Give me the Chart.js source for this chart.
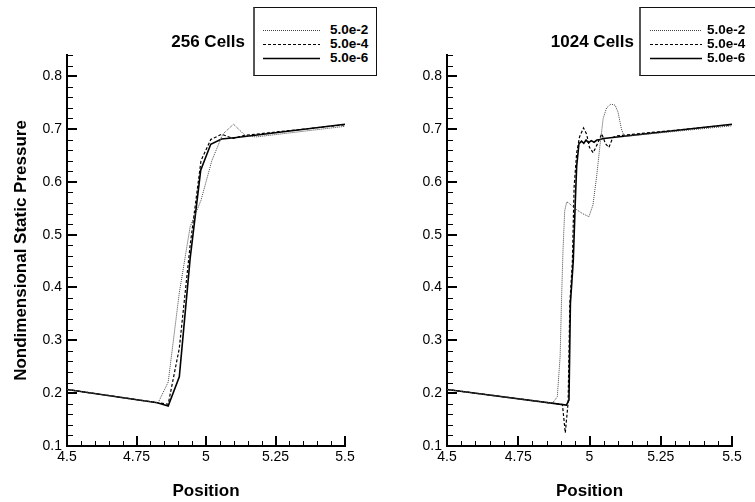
<!DOCTYPE html>
<html>
<head>
<meta charset="utf-8">
<title>Nondimensional Static Pressure</title>
<script src="https://cdn.jsdelivr.net/npm/chart.js@4.4.0/dist/chart.umd.min.js"></script>
<style>
  body { margin: 0; background: #fff; font-family: "Liberation Sans", Arial, sans-serif; }
  #wrap { position: relative; width: 755px; height: 502px; overflow: hidden; }
  canvas { position: absolute; top: 0; }
  .ticks { position: absolute; top: 0; z-index: 1; pointer-events: none; }
  .title { position: absolute; top: 32px; line-height: 20px; font-size: 17px; font-weight: bold; color: #000; white-space: nowrap; }
  .legend { position: absolute; top: 7px; height: 69px; box-sizing: border-box; border: 1px solid #111; border-left: 2px solid #555; background: #fff; z-index: 2; }
  .legend .row { position: absolute; left: 0; height: 14px; width: 100%; }
  .legend svg { position: absolute; top: 0; }
  .legend span { position: absolute; top: 0; line-height: 14px; font-size: 13.5px; font-weight: bold; color: #000; }
</style>
</head>
<body>
<div id="wrap">
  <canvas id="chart256" width="378" height="502" style="left:0"></canvas>
  <canvas id="chart1024" width="377" height="502" style="left:378px"></canvas>
  <div class="title" style="right:510px">256 Cells</div>
  <div class="title" style="right:121px">1024 Cells</div>
  <div class="legend" id="legend256" style="left:253px; width:124px"></div>
  <div class="legend" id="legend1024" style="left:639px; width:130px"></div>
</div>
<script>
// 軸の目盛り
const xTicks = [4.5, 4.75, 5, 5.25, 5.5];
const xTickLabels = ['4.5', '4.75', '5', '5.25', '5.5'];
const yTicks = [0.1, 0.2, 0.3, 0.4, 0.5, 0.6, 0.7, 0.8];
const yTickLabels = ['0.1', '0.2', '0.3', '0.4', '0.5', '0.6', '0.7', '0.8'];
const seriesLabels = ['5.0e-2', '5.0e-4', '5.0e-6'];

// 256 Cells
const x256_e2 = [4.5, 4.828, 4.864, 4.904, 4.943, 4.982, 5.021, 5.06, 5.099, 5.142, 5.18, 5.5];
const y256_e2 = [0.207, 0.182, 0.221, 0.39, 0.515, 0.565, 0.64, 0.69, 0.709, 0.687, 0.685, 0.705];
const x256_e4 = [4.5, 4.825, 4.864, 4.904, 4.943, 4.982, 5.017, 5.056, 5.098, 5.14, 5.5];
const y256_e4 = [0.207, 0.182, 0.179, 0.285, 0.48, 0.64, 0.68, 0.69, 0.682, 0.688, 0.708];
const x256_e6 = [4.5, 4.825, 4.864, 4.904, 4.943, 4.981, 5.017, 5.056, 5.11, 5.5];
const y256_e6 = [0.207, 0.182, 0.1755, 0.231, 0.455, 0.622, 0.671, 0.681, 0.684, 0.709];

// 1024 Cells
const x1024_e2 = [4.5, 4.87, 4.887, 4.897, 4.902, 4.907, 4.913, 4.92, 4.927, 4.95, 4.975, 4.998, 5.012, 5.025, 5.037, 5.048, 5.06, 5.075, 5.09, 5.1, 5.112, 5.122, 5.5];
const y1024_e2 = [0.207, 0.181, 0.193, 0.27, 0.38, 0.47, 0.545, 0.562, 0.56, 0.549, 0.54, 0.534, 0.556, 0.61, 0.67, 0.72, 0.74, 0.747, 0.745, 0.732, 0.70, 0.686, 0.706];
const x1024_e4 = [4.5, 4.905, 4.915, 4.925, 4.931, 4.94, 4.946, 4.955, 4.965, 4.979, 4.99, 5.0, 5.013, 5.028, 5.043, 5.056, 5.068, 5.082, 5.095, 5.5];
const y1024_e4 = [0.207, 0.1785, 0.125, 0.182, 0.37, 0.45, 0.59, 0.655, 0.685, 0.702, 0.69, 0.665, 0.655, 0.672, 0.691, 0.672, 0.665, 0.684, 0.687, 0.708];
const x1024_e6 = [4.5, 4.919, 4.928, 4.933, 4.943, 4.95, 4.955, 4.963, 4.972, 4.98, 4.988, 4.997, 5.006, 5.016, 5.026, 5.036, 5.05, 5.5];
const y1024_e6 = [0.207, 0.1775, 0.187, 0.37, 0.45, 0.56, 0.63, 0.672, 0.677, 0.673, 0.679, 0.674, 0.678, 0.675, 0.679, 0.68, 0.682, 0.709];

// 線のスタイル（点線・破線・実線）
const lineStyles = [
    { color: '#444', width: 1, dash: [1, 1] },
    { color: '#000', width: 1.2, dash: [3, 2] },
    { color: '#000', width: 1.6, dash: [] }
];

const fontFamily = '"Liberation Sans", Arial, sans-serif';

// 内向きの目盛り線の位置（スケールから計算）
function tickSegments(chart) {
    const area = chart.chartArea;
    const sx = chart.scales.x;
    const sy = chart.scales.y;
    const segs = [];
    for (let k = 0; k <= 20; k++) {
        const v = 4.5 + k * 0.05;
        let px = sx.getPixelForValue(v);
        if (!isFinite(px)) px = area.left + (v - 4.5) * area.width;
        const major = k % 5 === 0;
        const xx = major ? Math.round(px) : Math.round(px) + 0.5;
        segs.push({ x1: xx, y1: area.bottom, x2: xx, y2: area.bottom - (major ? 10 : 5), w: major ? 2 : 1 });
    }
    for (let k = 0; k <= 37; k++) {
        const v = 0.1 + k * 0.02;
        let py = sy.getPixelForValue(v);
        if (!isFinite(py)) py = area.bottom - (v - 0.1) / 0.74 * area.height;
        const major = k % 5 === 0;
        const yy = major ? Math.round(py) : Math.round(py) + 0.5;
        segs.push({ x1: area.left, y1: yy, x2: area.left + (major ? 10 : 6), y2: yy, w: major ? 2 : 1 });
    }
    return segs;
}

// 目盛り線をSVGで重ねる
function addTickOverlay(chart, left) {
    const lines = tickSegments(chart).map(s =>
        '<line x1="' + s.x1 + '" y1="' + s.y1 + '" x2="' + s.x2 + '" y2="' + s.y2 +
        '" stroke="#000" stroke-width="' + s.w + '"/>').join('');
    document.getElementById('wrap').insertAdjacentHTML('beforeend',
        '<svg class="ticks" width="' + chart.width + '" height="' + chart.height +
        '" style="left:' + left + 'px">' + lines + '</svg>');
}

function makeChart(id, xsList, ysList, yWidth, padRight, showYTitle) {
    const ctx = document.getElementById(id).getContext('2d');
    return new Chart(ctx, {
        type: 'line',
        data: {
            datasets: xsList.map((xs, i) => ({
                label: seriesLabels[i],
                data: xs.map((x, j) => ({ x: x, y: ysList[i][j] })),
                borderColor: lineStyles[i].color,
                borderWidth: lineStyles[i].width,
                borderDash: lineStyles[i].dash,
                pointRadius: 0,
                tension: 0,
                fill: false
            }))
        },
        options: {
            responsive: false,
            animation: false,
            layout: { padding: { top: 55, right: padRight, bottom: 0, left: 0 } },
            plugins: {
                legend: { display: false },
                tooltip: { enabled: false }
            },
            scales: {
                x: {
                    type: 'linear',
                    min: 4.5,
                    max: 5.5,
                    afterBuildTicks: s => { s.ticks = xTicks.map(v => ({ value: v })); },
                    afterFit: s => { s.height = 56; },
                    ticks: {
                        callback: (v, i) => xTickLabels[i],
                        color: '#000',
                        font: { family: fontFamily, size: 14 },
                        padding: 3,
                        maxRotation: 0,
                        autoSkip: false
                    },
                    grid: { drawOnChartArea: false, drawTicks: false },
                    border: { display: true, color: '#000', width: 2 },
                    title: {
                        display: true,
                        text: 'Position',
                        color: '#000',
                        font: { family: fontFamily, size: 17, weight: 'bold' },
                        padding: { top: 0, bottom: 0 }
                    }
                },
                y: {
                    type: 'linear',
                    min: 0.1,
                    max: 0.84,
                    afterBuildTicks: s => { s.ticks = yTicks.map(v => ({ value: v })); },
                    afterFit: s => { s.width = yWidth; },
                    ticks: {
                        callback: (v, i) => yTickLabels[i],
                        color: '#000',
                        font: { family: fontFamily, size: 14 },
                        padding: 5,
                        autoSkip: false
                    },
                    grid: { drawOnChartArea: false, drawTicks: false },
                    border: { display: true, color: '#000', width: 2 },
                    title: {
                        display: showYTitle,
                        text: 'Nondimensional Static Pressure',
                        color: '#000',
                        font: { family: fontFamily, size: 17, weight: 'bold' },
                        padding: { top: 11, bottom: 0 }
                    }
                }
            }
        }
    });
}

// 凡例（枠付き）
function buildLegend(id, sampleLeft, sampleWidth, textLeft) {
    const box = document.getElementById(id);
    seriesLabels.forEach((label, i) => {
        const row = document.createElement('div');
        row.className = 'row';
        row.style.top = (15 + i * 14) + 'px';
        const st = lineStyles[i];
        row.innerHTML =
            '<svg width="' + sampleWidth + '" height="14" style="left:' + sampleLeft + 'px">' +
            '<line x1="0" y1="7.5" x2="' + sampleWidth + '" y2="7.5" stroke="' + st.color +
            '" stroke-width="' + st.width + '" stroke-dasharray="' + (st.dash.length ? st.dash.join(',') : 'none') + '"/></svg>' +
            '<span style="left:' + textLeft + 'px">' + label + '</span>';
        box.appendChild(row);
    });
}

const chart256 = makeChart('chart256', [x256_e2, x256_e4, x256_e6], [y256_e2, y256_e4, y256_e6], 67, 33, true);
const chart1024 = makeChart('chart1024', [x1024_e2, x1024_e4, x1024_e6], [y1024_e2, y1024_e4, y1024_e6], 69, 23, false);
addTickOverlay(chart256, 0);
addTickOverlay(chart1024, 378);
buildLegend('legend256', 8, 57, 75);
buildLegend('legend1024', 9, 52, 66);
</script>
</body>
</html>
